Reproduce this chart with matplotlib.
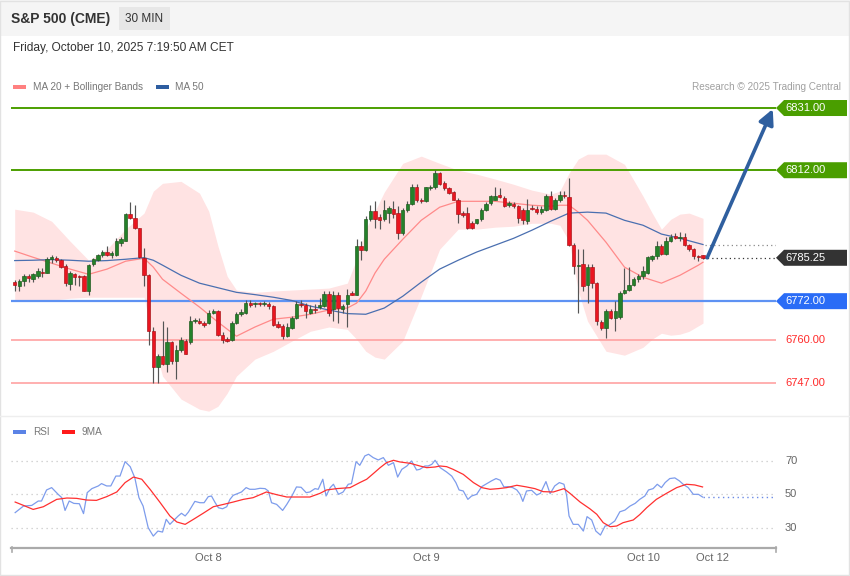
import numpy as np
import matplotlib
matplotlib.use("Agg")
import matplotlib.pyplot as plt
import matplotlib.transforms as mtransforms
from matplotlib.patches import Rectangle, Polygon
from matplotlib.lines import Line2D

plt.rcParams['font.family'] = ['Liberation Sans', 'DejaVu Sans']

# ---- 30 min candles, S&P 500 (CME) ----
opens = [6778.0, 6776.75, 6778.25, 6779.75, 6778.75, 6779.75, 6781.0, 6780.75, 6784.75, 6785.25,
         6784.5, 6782.75, 6777.25, 6780.25, 6779.75, 6779.75, 6775.25, 6783.25, 6784.5, 6786.0,
         6787.0, 6786.0, 6786.0, 6789.75, 6790.5, 6798.5, 6797.5, 6794.25, 6785.25, 6780.0,
         6762.75, 6751.75, 6755.25, 6752.75, 6759.5, 6753.75, 6757.0, 6759.75, 6759.5, 6766.0,
         6766.0, 6765.25, 6765.25, 6768.5, 6769.0, 6761.75, 6760.5, 6760.25, 6765.25, 6768.0,
         6768.5, 6771.5, 6771.0, 6771.25, 6771.0, 6771.25, 6770.5, 6765.0, 6764.5, 6761.25,
         6763.75, 6767.0, 6771.25, 6770.75, 6768.5, 6769.5, 6770.25, 6770.5, 6774.25, 6769.5,
         6774.0, 6769.75, 6771.0, 6774.5, 6774.0, 6788.75, 6787.5, 6797.0, 6799.5, 6797.75,
         6797.0, 6799.0, 6800.25, 6799.0, 6792.75, 6799.75, 6801.75, 6807.0, 6803.0, 6802.5,
         6806.5, 6806.75, 6811.25, 6808.0, 6806.5, 6805.25, 6803.0, 6799.0, 6799.0, 6796.0,
         6795.75, 6797.0, 6799.75, 6802.0, 6803.0, 6804.5, 6803.5, 6801.25, 6801.75, 6801.0,
         6800.0, 6796.5, 6800.5, 6800.25, 6799.25, 6800.0, 6804.0, 6800.25, 6802.75, 6804.5,
         6803.75, 6789.25, 6782.75, 6783.25, 6777.0, 6782.5, 6777.5, 6765.75, 6763.75, 6769.0,
         6767.0, 6767.25, 6774.5, 6775.5, 6777.0, 6778.75, 6779.75, 6780.75, 6784.75, 6785.75,
         6788.75, 6786.5, 6790.25, 6792.0, 6791.25, 6791.5, 6789.25, 6788.0, 6785.75, 6786.0]
highs = [6778.5, 6778.75, 6780.25, 6780.25, 6780.5, 6782.0, 6782.0, 6785.5, 6786.0, 6785.75,
         6784.75, 6783.25, 6781.25, 6780.75, 6780.0, 6780.0, 6783.5, 6785.25, 6786.5, 6787.75,
         6788.75, 6787.25, 6791.25, 6791.75, 6799.0, 6802.25, 6801.5, 6794.5, 6788.25, 6780.25,
         6764.25, 6755.75, 6766.0, 6764.25, 6759.75, 6758.75, 6761.0, 6760.5, 6767.5, 6767.0,
         6766.75, 6766.0, 6769.25, 6769.75, 6769.25, 6762.5, 6761.0, 6766.0, 6768.75, 6769.5,
         6772.25, 6772.25, 6771.75, 6771.75, 6772.0, 6771.75, 6770.75, 6766.0, 6765.0, 6765.25,
         6767.5, 6772.0, 6772.5, 6771.5, 6770.75, 6771.0, 6773.0, 6775.0, 6775.0, 6775.0,
         6774.75, 6771.0, 6775.75, 6775.0, 6791.0, 6790.25, 6798.0, 6801.5, 6802.5, 6798.5,
         6802.75, 6801.0, 6802.5, 6801.0, 6800.5, 6802.5, 6807.75, 6807.75, 6803.5, 6807.0,
         6807.5, 6812.0, 6811.5, 6808.75, 6806.75, 6805.75, 6803.5, 6799.5, 6800.75, 6796.5,
         6797.25, 6800.5, 6802.25, 6804.5, 6807.0, 6806.5, 6804.0, 6802.5, 6802.25, 6801.25,
         6800.5, 6803.25, 6801.25, 6801.0, 6801.0, 6804.75, 6805.5, 6803.5, 6805.5, 6805.5,
         6809.5, 6789.75, 6788.0, 6788.0, 6783.5, 6783.5, 6778.0, 6766.25, 6769.5, 6769.75,
         6772.0, 6775.25, 6782.25, 6782.5, 6779.25, 6780.25, 6782.75, 6785.75, 6786.25, 6790.25,
         6789.5, 6791.5, 6792.5, 6792.75, 6793.0, 6792.75, 6789.5, 6788.25, 6786.25, 6786.25]
lows = [6775.25, 6775.0, 6776.5, 6778.0, 6778.0, 6779.0, 6779.25, 6780.5, 6783.75, 6784.0,
        6782.0, 6776.5, 6775.5, 6777.0, 6776.75, 6775.0, 6773.75, 6782.75, 6784.25, 6785.5,
        6785.75, 6785.25, 6785.75, 6789.0, 6790.25, 6797.0, 6794.0, 6785.25, 6776.5, 6758.75,
        6747.0, 6747.0, 6752.5, 6750.5, 6752.75, 6748.25, 6756.5, 6755.75, 6759.0, 6765.25,
        6765.0, 6764.25, 6765.0, 6768.0, 6761.5, 6759.25, 6759.5, 6759.75, 6765.0, 6767.5,
        6768.0, 6770.25, 6770.25, 6770.5, 6770.5, 6769.75, 6764.5, 6763.75, 6760.5, 6761.0,
        6763.5, 6766.5, 6770.25, 6767.0, 6768.0, 6768.25, 6769.75, 6770.25, 6767.5, 6766.0,
        6765.25, 6768.25, 6764.25, 6773.75, 6773.75, 6784.5, 6787.25, 6796.5, 6794.5, 6794.0,
        6796.5, 6795.75, 6797.5, 6791.0, 6792.25, 6799.25, 6801.5, 6802.25, 6802.0, 6802.25,
        6806.0, 6806.25, 6807.5, 6806.0, 6804.75, 6802.75, 6796.0, 6797.75, 6794.0, 6794.0,
        6795.5, 6796.5, 6799.5, 6801.5, 6802.75, 6803.5, 6800.75, 6800.75, 6800.5, 6796.0,
        6795.5, 6795.5, 6799.75, 6798.5, 6798.75, 6799.5, 6799.75, 6799.75, 6802.25, 6803.5,
        6788.75, 6780.25, 6768.5, 6775.0, 6771.5, 6776.0, 6764.75, 6763.25, 6760.75, 6766.5,
        6762.75, 6766.5, 6774.25, 6775.0, 6776.75, 6777.75, 6778.75, 6780.25, 6784.25, 6785.0,
        6786.25, 6786.0, 6790.0, 6791.0, 6790.25, 6789.0, 6787.25, 6785.0, 6784.25, 6784.75]
closes = [6777.0, 6778.25, 6779.75, 6779.0, 6780.25, 6781.25, 6780.75, 6784.75, 6785.5, 6784.5,
          6782.5, 6777.5, 6780.5, 6779.5, 6779.5, 6775.25, 6783.0, 6784.75, 6786.0, 6787.0,
          6786.0, 6786.75, 6790.5, 6791.0, 6798.75, 6797.5, 6794.25, 6785.5, 6780.0, 6762.75,
          6751.75, 6755.25, 6752.75, 6759.5, 6753.75, 6757.0, 6760.0, 6756.0, 6766.0, 6766.25,
          6765.25, 6764.75, 6768.5, 6769.0, 6761.75, 6760.25, 6759.75, 6765.25, 6768.0, 6768.75,
          6771.5, 6770.75, 6771.25, 6771.0, 6771.25, 6770.5, 6764.75, 6764.25, 6761.25, 6764.25,
          6767.0, 6771.0, 6770.75, 6769.0, 6769.5, 6769.25, 6770.75, 6774.25, 6768.5, 6774.0,
          6770.0, 6770.5, 6774.0, 6774.0, 6788.75, 6787.5, 6797.0, 6799.5, 6797.25, 6796.75,
          6800.0, 6800.5, 6798.75, 6792.75, 6799.75, 6801.75, 6807.0, 6802.75, 6802.5, 6806.75,
          6806.75, 6811.25, 6807.75, 6806.5, 6805.0, 6803.0, 6798.5, 6798.25, 6794.5, 6794.5,
          6797.0, 6800.0, 6801.75, 6804.0, 6804.0, 6803.75, 6801.0, 6802.0, 6801.0, 6797.5,
          6796.75, 6800.0, 6800.25, 6799.25, 6800.25, 6804.0, 6800.25, 6802.75, 6804.5, 6804.0,
          6789.25, 6782.75, 6783.0, 6776.5, 6782.5, 6777.5, 6766.0, 6763.75, 6769.0, 6767.0,
          6769.0, 6774.5, 6775.5, 6777.0, 6778.75, 6779.75, 6781.25, 6785.5, 6785.75, 6788.75,
          6786.5, 6790.25, 6791.75, 6791.25, 6791.5, 6789.25, 6788.0, 6785.75, 6785.5, 6785.25]

# Bollinger bands (20) read at these bars
band_idx = [0, 4, 8, 12, 16, 20, 24, 28, 30, 32, 36, 40, 42, 44, 46, 48, 52, 56, 60, 64,
            68, 72, 74, 76, 78, 80, 84, 88, 92, 96, 100, 104, 108, 112, 116, 118, 120, 122, 124, 128,
            132, 136, 138, 140, 142, 144, 146, 149]
bb_upper = [6800.1, 6799.2, 6796.4, 6790.3, 6784.5, 6787.9, 6794.0, 6798.9, 6805.6, 6808.0,
            6808.6, 6805.0, 6799.5, 6788.8, 6779.6, 6775.4, 6774.7, 6775.1, 6775.4, 6775.7,
            6776.0, 6777.5, 6784.8, 6794.0, 6799.5, 6805.3, 6814.1, 6816.3, 6814.1, 6812.0,
            6810.8, 6809.3, 6807.7, 6805.9, 6804.7, 6805.6, 6811.1, 6815.4, 6816.9, 6816.9,
            6813.8, 6804.1, 6798.9, 6794.0, 6797.0, 6798.6, 6798.9, 6797.3]
bb_lower = [6772.0, 6772.0, 6772.3, 6772.9, 6773.2, 6773.2, 6773.2, 6773.2, 6759.8, 6749.1,
            6742.1, 6739.0, 6738.4, 6739.9, 6743.9, 6749.1, 6754.3, 6756.7, 6759.8, 6762.8,
            6764.1, 6763.4, 6760.4, 6756.7, 6754.9, 6754.3, 6759.8, 6773.5, 6787.9, 6794.0,
            6794.0, 6794.6, 6794.9, 6795.8, 6795.8, 6795.2, 6790.3, 6775.1, 6765.9, 6756.7,
            6755.5, 6757.9, 6760.4, 6762.2, 6761.6, 6761.9, 6762.8, 6765.3]

ma20_idx = [0, 4, 8, 12, 16, 20, 24, 28, 30, 32, 36, 40, 44, 48, 52, 56, 60, 64, 68, 72,
            74, 76, 78, 80, 84, 88, 92, 96, 100, 104, 108, 112, 116, 118, 120, 122, 124, 128, 132, 136,
            140, 144, 148, 149]
ma20 = [6787.3, 6785.4, 6783.6, 6781.8, 6780.2, 6781.8, 6784.2, 6785.1, 6782.4, 6778.7,
        6774.4, 6770.2, 6765.6, 6761.3, 6764.1, 6766.5, 6767.1, 6768.0, 6769.3, 6769.9,
        6771.4, 6775.1, 6780.6, 6784.8, 6790.9, 6796.7, 6800.7, 6802.5, 6802.5, 6802.5,
        6801.9, 6801.3, 6801.0, 6801.3, 6801.3, 6799.2, 6796.7, 6790.0, 6782.4, 6779.3,
        6777.5, 6779.9, 6783.0, 6783.9]

ma50_idx = [0, 4, 8, 12, 16, 20, 24, 28, 30, 32, 36, 40, 44, 48, 52, 56, 60, 64, 68, 72,
            76, 80, 84, 88, 92, 96, 100, 104, 108, 112, 116, 120, 124, 128, 132, 136, 140, 144, 149]
ma50 = [6784.4, 6784.5, 6784.7, 6784.5, 6784.2, 6784.4, 6784.8, 6785.3, 6784.5, 6783.0,
        6779.9, 6777.5, 6776.1, 6774.7, 6774.0, 6773.2, 6772.2, 6770.5, 6769.3, 6768.2,
        6768.0, 6769.9, 6773.5, 6777.8, 6781.8, 6784.5, 6787.0, 6789.1, 6791.2, 6793.7,
        6796.4, 6798.9, 6799.2, 6798.9, 6796.7, 6795.2, 6792.5, 6791.2, 6789.3]

# RSI and its 9 period average (bar position, value)
rsi_x = [0.1, 1.9, 3.7, 5.1, 5.8, 6.9, 8.0, 9.4, 10.2, 10.9, 11.8, 12.8, 14.0, 14.9, 15.7, 16.7,
         18.1, 18.8, 19.9, 20.8, 21.9, 22.8, 23.9, 25.0, 26.0, 26.9, 27.8, 28.9, 30.0, 31.0, 32.0,
         32.8, 33.6, 34.3, 35.4, 36.1, 36.9, 37.6, 38.3, 39.0, 40.1, 41.0, 41.9, 42.6, 43.4, 44.1,
         45.0, 45.9, 46.6, 47.3, 48.2, 49.1, 50.1, 50.9, 52.0, 53.1, 54.2, 54.9, 55.6, 56.7, 58.0,
         58.9, 60.0, 61.0, 62.0, 63.1, 63.9, 65.0, 65.7, 66.7, 67.4, 68.3, 69.0, 70.1, 71.1, 72.2,
         72.9, 73.9, 74.7, 75.8, 76.6, 77.6, 78.7, 79.8, 80.9, 82.0, 82.9, 83.8, 84.9, 85.9, 87.0,
         87.7, 88.8, 89.5, 90.3, 91.0, 92.1, 93.5, 94.6, 95.5, 96.2, 97.1, 98.1, 98.9, 100.0,
         101.1, 102.2, 103.2, 104.2, 105.1, 105.9, 106.8, 107.8, 108.7, 109.4, 110.0, 110.8,
         111.9, 113.0, 113.8, 115.0, 115.9, 116.9, 117.9, 118.9, 119.5, 120.0, 120.9, 122.0,
         123.1, 123.9, 124.9, 125.8, 126.8, 127.8, 128.6, 129.9, 131.0, 132.1, 133.2, 134.3,
         135.3, 136.4, 137.2, 138.2, 139.1, 140.0, 140.8, 141.8, 142.9, 143.9, 144.7, 145.8,
         146.9, 148.0, 148.9]
rsi = [39.2, 43.1, 43.5, 46.1, 46.1, 52.7, 54.1, 50.1, 48.1, 40.5, 46.1, 44.7, 44.5, 38.6, 51.1, 53.5,
       55.1, 56.5, 55.1, 55.1, 61.0, 61.0, 69.6, 66.6, 60.0, 48.1, 43.1, 30.2, 25.2, 28.2, 27.6,
       35.2, 32.2, 34.2, 37.2, 38.8, 37.2, 39.5, 42.7, 45.9, 45.1, 45.1, 48.7, 49.1, 45.1, 42.1,
       41.5, 42.7, 47.1, 49.5, 50.5, 51.5, 54.1, 53.1, 53.1, 53.7, 53.5, 52.1, 45.1, 44.1, 40.5,
       44.1, 49.1, 54.5, 54.3, 51.1, 51.5, 53.5, 53.1, 59.1, 49.1, 54.1, 56.1, 50.1, 51.5, 56.1,
       56.5, 69.6, 67.4, 73.0, 74.0, 72.0, 70.6, 72.0, 67.4, 69.0, 60.4, 65.0, 67.0, 70.0, 64.6,
       65.0, 67.0, 67.0, 68.0, 70.4, 66.0, 63.4, 61.0, 57.1, 52.7, 52.1, 47.1, 49.1, 50.1,
       54.7, 56.5, 58.1, 59.5, 58.5, 54.5, 54.7, 54.1, 52.7, 50.1, 45.9, 52.1,
       52.5, 49.7, 50.7, 57.7, 50.5, 55.1, 57.1, 56.1, 49.1, 37.2, 32.2, 32.2,
       28.2, 36.8, 34.8, 28.2, 25.8, 31.2, 31.6, 34.2, 39.7, 40.7, 43.1, 44.7,
       47.1, 49.1, 52.7, 53.5, 56.1, 54.1, 57.1, 59.5, 59.9, 58.1, 56.1, 54.1,
       50.1, 50.1, 48.5]
ma9_x = [0.1, 1.9, 4.0, 6.2, 9.1, 11.3, 13.4, 15.6, 17.7, 19.9, 22.1, 23.9, 25.7, 27.5, 29.3,
         31.4, 33.6, 35.1, 36.9, 38.7, 40.8, 43.0, 45.2, 47.3, 49.5, 51.6, 54.5, 56.7, 58.9, 61.8,
         63.9, 66.1, 67.5, 69.7, 72.6, 74.7, 76.2, 77.6, 79.1, 80.5, 82.0, 83.4, 85.6, 87.7, 89.2,
         91.0, 92.1, 93.5, 94.9, 97.1, 99.3, 101.1, 102.9, 104.7, 106.5, 108.7, 110.8, 112.6, 114.4,
         116.6, 118.9, 120.2, 122.4, 124.5, 126.0, 127.4, 128.9, 130.3, 131.7, 133.9, 135.3, 136.8,
         138.9, 141.1, 143.3, 145.4, 147.2, 148.9]
ma9 = [45.5, 43.5, 41.1, 42.7, 47.1, 47.9, 47.7, 46.7, 46.5, 48.7, 51.5, 57.1, 60.4, 59.1, 53.1,
       45.5, 37.2, 33.6, 32.2, 35.2, 38.8, 42.7, 44.1, 45.5, 47.1, 48.1, 51.5, 49.9, 48.5, 48.5,
       48.5, 50.7, 52.7, 53.5, 54.1, 57.1, 59.1, 62.4, 66.0, 69.0, 70.4, 69.4, 68.6, 67.0, 66.0,
       66.4, 67.0, 66.6, 65.0, 62.0, 57.1, 54.1, 53.1, 53.5, 54.1, 55.5, 54.5, 53.5, 51.7,
       51.5, 53.5, 50.7, 45.5, 41.5, 38.2, 33.2, 30.8, 31.2, 33.2, 34.8, 38.0, 42.1,
       47.1, 50.7, 54.1, 56.1, 55.7, 54.5]

# key levels
resist_levels = [6831.00, 6812.00]
pivot_level = 6772.00
support_levels = [6760.00, 6747.00]
target_price = 6831.00

tick_idx = [42, 89, 136, 151]
tick_labels = ['Oct 8', 'Oct 9', 'Oct 10', 'Oct 12']
rsi_levels = [70, 50, 30]

# ---- layout ----
W, H = 850, 576
fig = plt.figure(figsize=(W / 100, H / 100), dpi=100)
fig.patch.set_facecolor('white')


def fx(px):
    return px / W


def fy(py):
    return 1 - py / H


XL, XR = -0.8, 164.8

# header strip
fig.patches.append(Rectangle((0, fy(36)), 1, 36 / H, transform=fig.transFigure,
                             facecolor='#f5f5f5', edgecolor='none', zorder=0))
fig.patches.append(Rectangle((fx(119), fy(30)), fx(51), 23 / H, transform=fig.transFigure,
                             facecolor='#e7e7e7', edgecolor='none', zorder=1))
fig.patches.append(Rectangle((0.0005, 0.001), 0.998, 0.998, transform=fig.transFigure,
                             facecolor='none', edgecolor='#e2e2e2', lw=1, zorder=1))
fig.add_artist(Line2D([0, 1], [fy(415.5), fy(415.5)], transform=fig.transFigure,
                      color='#eeeeee', lw=1))

fig.text(fx(11), fy(18.5), 'S&P 500 (CME)', fontsize=10, fontweight='bold', color='#333333',
         va='center', ha='left')
fig.text(fx(144.5), fy(18.5), '30 MIN', fontsize=8.5, color='#333333', va='center', ha='center')
fig.text(fx(13), fy(48.5), 'Friday, October 10, 2025 7:19:50 AM CET', fontsize=8.6,
         color='#333333', va='center', ha='left')

# legend row
fig.patches.append(Rectangle((fx(13), fy(88.5)), fx(13), 4 / H, transform=fig.transFigure,
                             facecolor='#ff8080', edgecolor='none'))
fig.text(fx(33), fy(87), 'MA 20 + Bollinger Bands', fontsize=7.2, color='#777777',
         va='center', ha='left')
fig.patches.append(Rectangle((fx(156), fy(88.5)), fx(13), 4 / H, transform=fig.transFigure,
                             facecolor='#2e5da0', edgecolor='none'))
fig.text(fx(175), fy(87), 'MA 50', fontsize=7.2, color='#777777', va='center', ha='left')
fig.text(fx(841), fy(87), 'Research \u00a9 2025 Trading Central', fontsize=7.2,
         color='#a0a0a0', va='center', ha='right')

# ---- price panel ----
ax = fig.add_axes([fx(11), fy(413), fx(776) - fx(11), (413 - 96) / H])
ax.set_xlim(XL, XR)
ax.set_ylim(6737.84, 6834.67)
ax.axis('off')

ax.fill_between(band_idx, bb_lower, bb_upper, color='#ffe3e3', lw=0, zorder=1)
ax.plot(ma20_idx, ma20, color='#ff8a8a', lw=0.9, zorder=2.5)
ax.plot(ma50_idx, ma50, color='#4a6fb0', lw=0.9, zorder=2.5)

for lv in resist_levels:
    ax.axhline(lv, color='#4c9f00', lw=1.4, zorder=2)
ax.axhline(pivot_level, color='#5e92f3', lw=1.6, zorder=2)
for lv in support_levels:
    ax.axhline(lv, color='#ff9a9a', lw=1.1, zorder=2)

o = np.array(opens)
c = np.array(closes)
hi = np.array(highs)
lo = np.array(lows)
idx = np.arange(len(c))
up = c >= o
ax.vlines(idx, lo, hi, color='#555555', lw=0.85, zorder=3)
b_lo = np.minimum(o, c)
b_h = np.maximum(np.abs(c - o), 0.3)
ax.bar(idx[up], b_h[up], bottom=b_lo[up], width=0.74, color='#24812a',
       edgecolor='#1a561a', lw=0.45, zorder=4)
ax.bar(idx[~up], b_h[~up], bottom=b_lo[~up], width=0.74, color='#ea1520',
       edgecolor='#a50f14', lw=0.45, zorder=4)

# last price / MA50 dotted extensions
last = idx[-1]
ax.plot([last, XR], [c[-1], c[-1]], color='#333333', lw=0.9, ls=(0, (1, 2.5)), zorder=2)
ax.plot([last + 0.5, XR], [ma50[-1], ma50[-1]], color='#8a8a8a', lw=0.9, ls=(0, (1, 2.5)),
        zorder=2)

# target arrow
ax.annotate('', xy=(164.1, target_price - 0.3), xytext=(149.9, c[-1]),
            arrowprops=dict(arrowstyle='-|>,head_length=0.9,head_width=0.45',
                            color='#2f5f9f', lw=2.6, shrinkA=0, shrinkB=0), zorder=6)

# right hand price tags
blend = mtransforms.blended_transform_factory(ax.transAxes, ax.transData)
hh = 8 / 3.274


def tag(price, color):
    pts = [(1.0, price), (1.0105, price + hh), (1.0928, price + hh),
           (1.0928, price - hh), (1.0105, price - hh)]
    ax.add_patch(Polygon(pts, closed=True, transform=blend, facecolor=color,
                         edgecolor='none', clip_on=False, zorder=7))
    ax.text(1.0118, price, '%.2f' % price, transform=blend, color='white', fontsize=8,
            va='center', ha='left', zorder=8, clip_on=False)


for lv in resist_levels:
    tag(lv, '#4a9e00')
tag(c[-1], '#333333')
tag(pivot_level, '#2a6cf6')
for lv in support_levels:
    ax.text(1.0118, lv, '%.2f' % lv, transform=blend, color='#ff2a2a', fontsize=8,
            va='center', ha='left', clip_on=False)

# ---- RSI panel ----
ax2 = fig.add_axes([fx(11), fy(549), fx(776) - fx(11), (549 - 441) / H])
ax2.set_xlim(XL, XR)
ax2.set_ylim(17.5, 81.9)
ax2.axis('off')
for lv in rsi_levels:
    ax2.axhline(lv, color='#c8c8c8', lw=0.9, ls=(0, (1, 3)), zorder=1)
    ax2.text(1.0118, lv, str(lv), transform=mtransforms.blended_transform_factory(
        ax2.transAxes, ax2.transData), color='#666666', fontsize=8, va='center', ha='left')
ax2.plot(rsi_x, rsi, color='#7d9cec', lw=0.9, zorder=3)
ax2.plot(ma9_x, ma9, color='#ff3030', lw=0.9, zorder=3)
ax2.plot([rsi_x[-1], XR], [rsi[-1], rsi[-1]], color='#6a8ae6', lw=1.0, ls=(0, (1, 2.5)),
         zorder=2)

xb = mtransforms.blended_transform_factory(ax2.transData, ax2.transAxes)
for t, lab in zip(tick_idx, tick_labels):
    ax2.text(t, -0.085, lab, transform=xb, color='#666666', fontsize=8, ha='center',
             va='center', clip_on=False)

# time axis base line with end ticks
fig.add_artist(Line2D([fx(11), fx(776)], [fy(547.5), fy(547.5)], transform=fig.transFigure,
                      color='#aaaaaa', lw=1.6))
for px in (11.5, 775.5):
    fig.add_artist(Line2D([fx(px), fx(px)], [fy(546.5), fy(552)], transform=fig.transFigure,
                          color='#aaaaaa', lw=1.2))

# RSI legend
fig.patches.append(Rectangle((fx(13), fy(433.5)), fx(13), 4 / H, transform=fig.transFigure,
                             facecolor='#5b83e6', edgecolor='none'))
fig.text(fx(33), fy(432), 'RSI', fontsize=7.2, color='#777777', va='center', ha='left')
fig.patches.append(Rectangle((fx(62), fy(433.5)), fx(13), 4 / H, transform=fig.transFigure,
                             facecolor='#ff1a1a', edgecolor='none'))
fig.text(fx(82), fy(432), '9MA', fontsize=7.2, color='#777777', va='center', ha='left')

fig.savefig('out.png', dpi=100)
